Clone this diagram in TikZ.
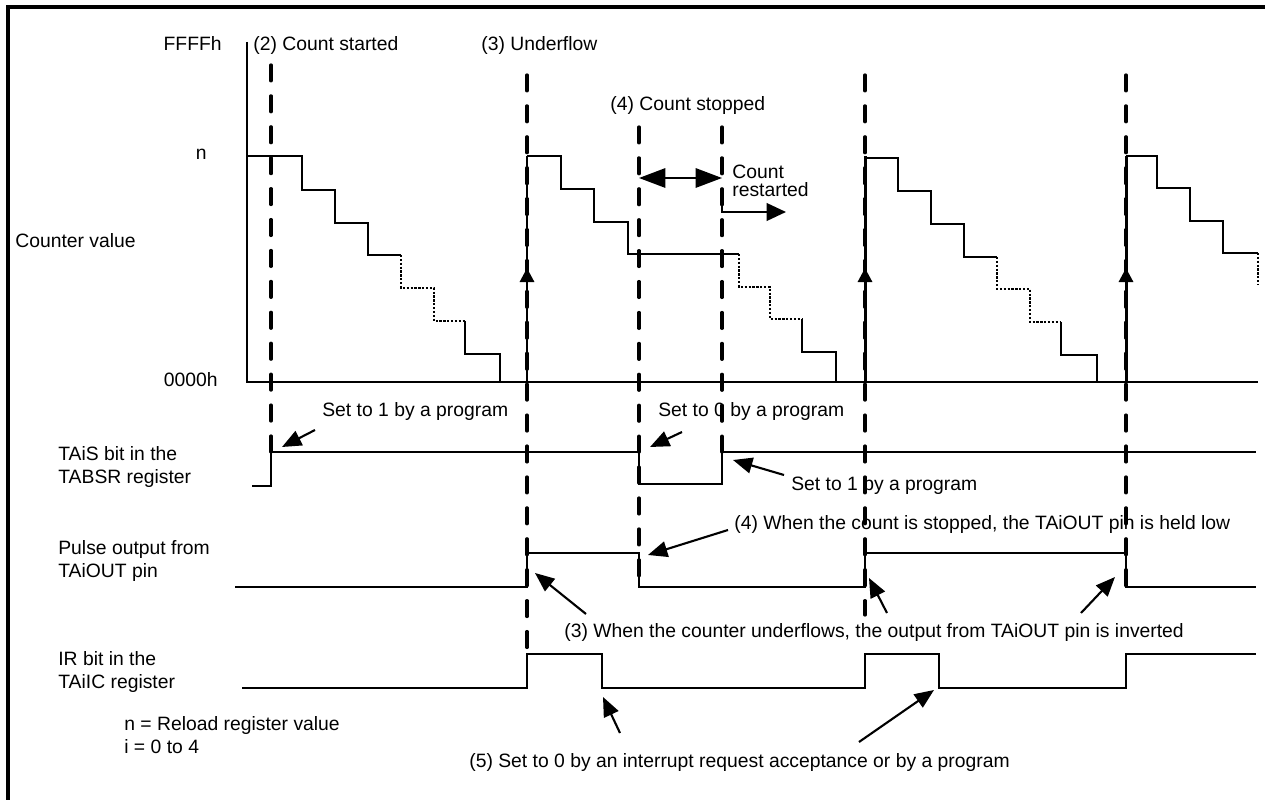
\documentclass[tikz,border=0pt]{standalone}
\usepackage{fontspec}
\setmainfont{Liberation Sans}
\usetikzlibrary{arrows.meta}
\begin{document}
\begin{tikzpicture}[x=0.02cm,y=-0.02cm,
  every node/.style={font=\fontsize{11}{13}\selectfont, inner sep=0pt},
  lbl/.style={anchor=base west},
  lble/.style={anchor=base east},
  sig/.style={line width=1.1pt, line join=miter},
  dotseg/.style={line width=1.1pt, dash pattern=on 1.3pt off 0.9pt},
  guide/.style={line width=1.9pt, line cap=round, dash pattern=on 9pt off 8.6pt},
  upar/.style={line width=1.7pt, -{Triangle[length=8pt,width=8pt]}},
  upln/.style={line width=1.7pt},
  ann/.style={line width=1.2pt, -{Triangle[length=11pt,width=9pt]}},
]
\useasboundingbox (0,0) rectangle (1265,800);
% frame
\draw[line width=2.5pt, line join=miter] (8,800) -- (8,7) -- (1265,7);

% axes
\draw[sig] (247,42) -- (247,382) -- (1258,382);

% axis labels
\node[lble] (ffff) at (222,51) {FFFFh};
\node[lble] (nlab) at (207,160) {n};
\node[lbl] (cv) at (15,248) {Counter value};
\node[lble] (zero) at (218,387) {0000h};

% top labels
\node[lbl] (t2) at (253,51) {(2) Count started};
\node[lbl] (t3) at (481,51) {(3) Underflow};
\node[lbl] (t4) at (610,111) {(4) Count stopped};
\node[lbl] (cr1) at (732,179) {Count};
\node[lbl] (cr2) at (732,197) {restarted};

% guide lines
\draw[guide] (271,65) -- (271,452);
\draw[guide] (527,75) -- (527,650);
\draw[guide] (639,127) -- (639,587);
\draw[guide] (722,127) -- (722,452);
\draw[guide] (865,75) -- (865,615);
\draw[guide] (1126,75) -- (1126,587);

% staircase 1
\draw[sig] (247,156) -- (302,156) -- (302,190) -- (335,190) -- (335,223) -- (368,223) -- (368,255) -- (401,255);
\draw[dotseg] (401,255) -- (401,288) -- (434,288) -- (434,321) -- (465,321);
\draw[sig] (465,321) -- (465,354) -- (500,354) -- (500,382);
% staircase 2
\draw[sig] (527,156) -- (561,156) -- (561,189) -- (594,189) -- (594,222) -- (628,222) -- (628,254) -- (739,254);
\draw[dotseg] (739,254) -- (739,287) -- (770,287) -- (770,319) -- (802,319);
\draw[sig] (802,319) -- (802,352) -- (836,352) -- (836,382);
% staircase 3
\draw[sig] (865,158) -- (898,158) -- (898,191) -- (931,191) -- (931,224) -- (964,224) -- (964,257) -- (997,257);
\draw[dotseg] (997,257) -- (997,289) -- (1030,289) -- (1030,322) -- (1061,322);
\draw[sig] (1061,322) -- (1061,355) -- (1097,355) -- (1097,382);
% staircase 4
\draw[sig] (1126,156) -- (1157,156) -- (1157,188) -- (1190,188) -- (1190,221) -- (1223,221) -- (1223,253) -- (1258,253);
\draw[dotseg] (1258,253) -- (1258,285);

% reload arrows
\foreach \xx/\nm in {527/a, 865/b, 1126/c}{
  \coordinate (ub\nm) at (\xx,382);
  \coordinate (um\nm) at (\xx,268);
  \coordinate (ut\nm) at (\xx,156);
  \draw[upar] (ub\nm) -- (um\nm);
  \draw[upln] (um\nm) -- (ut\nm);
}

% count stopped double arrow
\coordinate (cs1) at (639,178);
\coordinate (cs2) at (722,178);
\draw[line width=1.2pt, {Triangle[length=15pt,width=11pt]}-{Triangle[length=15pt,width=11pt]}] (cs1) -- (cs2);
% count restarted arrow
\coordinate (rs0) at (722,198);
\coordinate (rs1) at (786,212);
\draw[line width=1.2pt, -{Triangle[length=11pt,width=10pt]}] (rs0) |- (rs1);

% signal labels
\node[lbl] (s1a) at (58,460) {TAiS bit in the};
\node[lbl] (s1b) at (58,483) {TABSR register};
\node[lbl] (s2a) at (58,555) {Pulse output from};
\node[lbl] (s2b) at (58,578) {TAiOUT pin};
\node[lbl] (s3a) at (58,665) {IR bit in the};
\node[lbl] (s3b) at (58,688) {TAiIC register};
\node[lbl] (nr) at (124,730) {n = Reload register value};
\node[lbl] (ir) at (124,753) {i = 0 to 4};

% signals
\draw[sig] (252,486) -- (271,486) -- (271,452) -- (639,452) -- (639,484) -- (722,484) -- (722,452) -- (1256,452);
\draw[sig] (235,587) -- (527,587) -- (527,553) -- (639,553) -- (639,587) -- (865,587) -- (865,553) -- (1126,553) -- (1126,587) -- (1256,587);
\draw[sig] (242,688) -- (527,688) -- (527,654) -- (602,654) -- (602,688) -- (865,688) -- (865,654) -- (939,654) -- (939,688) -- (1126,688) -- (1126,654) -- (1256,654);

% annotations
\node[lbl] (a1) at (322,417) {Set to 1 by a program};
\coordinate (a1s) at (315,430); \coordinate (a1t) at (282,447);
\draw[ann] (a1s) -- (a1t);

\node[lbl] (a2) at (658,417) {Set to 0 by a program};
\coordinate (a2s) at (682,432); \coordinate (a2t) at (650,447);
\draw[ann] (a2s) -- (a2t);

\node[lbl] (a3) at (791,491) {Set to 1 by a program};
\coordinate (a3s) at (784,475); \coordinate (a3t) at (733,460);
\draw[ann] (a3s) -- (a3t);

\node[lbl] (a4) at (734,529) {(4) When the count is stopped, the TAiOUT pin is held low};
\coordinate (a4s) at (728,530); \coordinate (a4t) at (648,555);
\draw[ann] (a4s) -- (a4t);

\node[lbl] (a5) at (564,637) {(3) When the counter underflows, the output from TAiOUT pin is inverted};
\coordinate (a5s1) at (586,614); \coordinate (a5t1) at (535,573);
\coordinate (a5s2) at (887,613); \coordinate (a5t2) at (869,578);
\coordinate (a5s3) at (1081,613); \coordinate (a5t3) at (1115,577);
\draw[ann] (a5s1) -- (a5t1);
\draw[ann] (a5s2) -- (a5t2);
\draw[ann] (a5s3) -- (a5t3);

\node[lbl] (a6) at (469,767) {(5) Set to 0 by an interrupt request acceptance or by a program};
\coordinate (a6s1) at (620,733); \coordinate (a6t1) at (603,697);
\coordinate (a6s2) at (859,742); \coordinate (a6t2) at (934,690);
\draw[ann] (a6s1) -- (a6t1);
\draw[ann] (a6s2) -- (a6t2);
\end{tikzpicture}
\end{document}
